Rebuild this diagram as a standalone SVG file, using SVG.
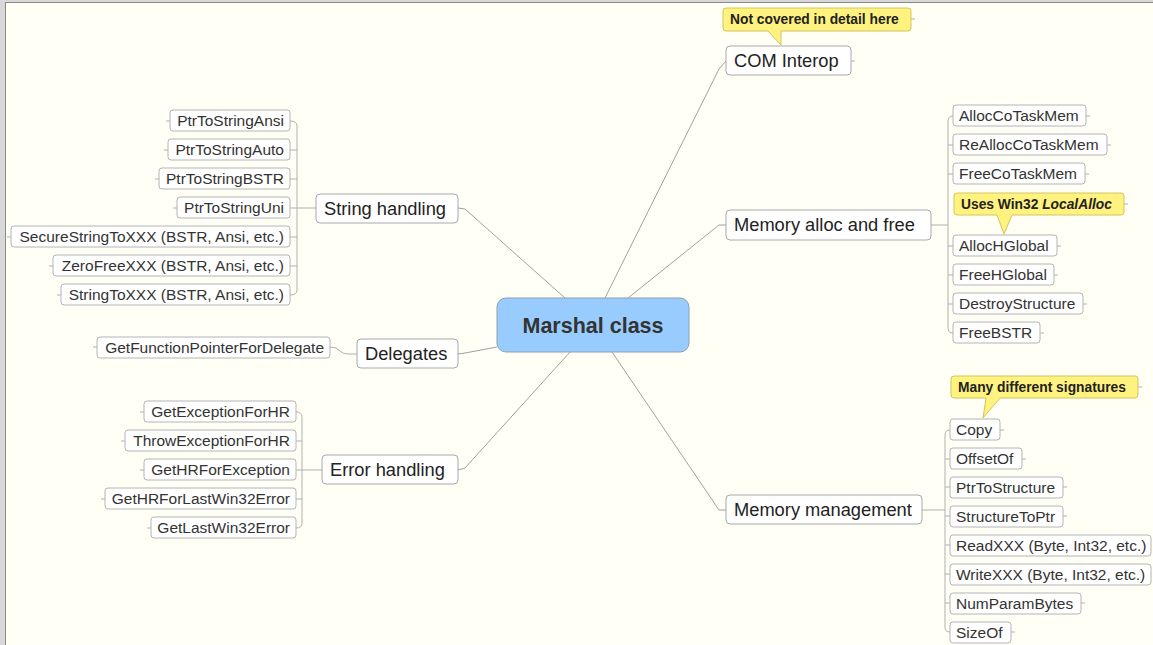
<svg xmlns="http://www.w3.org/2000/svg" width="1153" height="645" viewBox="0 0 1153 645">
<style>
text{font-family:"Liberation Sans",Arial,sans-serif;fill:#222}
.main rect{fill:#fff;stroke:#a8a8a8;stroke-width:1}
.main text{font-size:18.3px}
.leaf rect{fill:#fff;stroke:#b4b4b4;stroke-width:1}
.leaf text{font-size:15.5px;fill:#333}
.r text{text-anchor:end}
.call path{fill:#fff27f;stroke:#d2c463;stroke-width:1}
.call text{font-size:13.8px;font-weight:bold;fill:#222}
#connectors path{fill:none;stroke:#b0b0b0;stroke-width:1}
#connectors .big{stroke:#a0a0a0}
</style>
<rect x="0" y="0" width="1153" height="645" fill="#fffff6"/>
<rect x="0" y="0" width="5" height="645" fill="#d8d8d8"/>
<rect x="0" y="0" width="1153" height="2" fill="#d8d8d8"/>
<rect x="5" y="2" width="1" height="643" fill="#8a8a8a"/>
<rect x="5" y="2" width="1148" height="1" fill="#8a8a8a"/>

<g id="connectors">
<path class="big" d="M605,298 L719,69 L726,61"/>
<path class="big" d="M628,298 L719,225 L726,225"/>
<path class="big" d="M612,352 L719,510 L726,510"/>
<path class="big" d="M565,298 L465,209 L458,208"/>
<path class="big" d="M497,347 L465,353 L458,354"/>
<path class="big" d="M570,352 L465,468 L458,470"/>
<path d="M851,61 H855"/>
<path d="M911,19 H915"/>
<path d="M931,225 H948"/>
<path d="M953,116 Q948,116 948,121 V328 Q948,333 953,333"/>
<path d="M948,145 H953 M948,174 H953 M948,246 H953 M948,275 H953 M948,304 H953"/>
<path d="M1086,116 H1090 M1107,145 H1111 M1085,174 H1089 M1124,204 H1128 M1057,246 H1061 M1054,275 H1058 M1083,304 H1087 M1040,333 H1044"/>
<path d="M922,510 H945"/>
<path d="M950,430 Q945,430 945,435 V627 Q945,632 950,632"/>
<path d="M945,459 H950 M945,487 H950 M945,516 H950 M945,545 H950 M945,574 H950 M945,603 H950"/>
<path d="M1000,430 H1004 M1022,459 H1026 M1063,487 H1067 M1063,516 H1067 M1081,603 H1085 M1011,632 H1015 M1138,387 H1142"/>
<path d="M297,208 H316"/>
<path d="M290,121 Q297,121 297,126 V290 Q297,295 290,295"/>
<path d="M290,150 H297 M290,179 H297 M290,208 H297 M290,237 H297 M290,266 H297"/>
<path d="M166,121 H170 M164,150 H168 M155,179 H159 M173,208 H177 M7,237 H11 M49,266 H53 M57,295 H61"/>
<path d="M330,347 Q337,347 340,351 Q343,354 348,354 H357"/>
<path d="M93,347 H97"/>
<path d="M302,470 H322"/>
<path d="M296,412 Q302,412 302,417 V523 Q302,528 296,528"/>
<path d="M296,441 H302 M296,470 H302 M296,499 H302"/>
<path d="M140,412 H144 M121,441 H125 M140,470 H144 M101,499 H105 M147,528 H151"/>
</g>

<g id="marshal">
<rect x="497" y="298" width="192" height="54" rx="9" fill="#99ccfe" stroke="#8a9fb5" stroke-width="1"/>
<text x="593" y="333" text-anchor="middle" font-size="21.5" font-weight="bold" style="fill:#333">Marshal class</text>
</g>

<g id="com" class="main"><rect x="726" y="46" width="125" height="29" rx="4"/><text x="734" y="67">COM Interop</text></g>
<g id="memalloc" class="main"><rect x="726" y="210" width="205" height="30" rx="4"/><text x="734" y="231">Memory alloc and free</text></g>
<g id="memmgmt" class="main"><rect x="726" y="495" width="196" height="29" rx="4"/><text x="734" y="516">Memory management</text></g>
<g id="strhand" class="main"><rect x="316" y="194" width="142" height="29" rx="4"/><text x="324" y="215">String handling</text></g>
<g id="delegates" class="main"><rect x="357" y="339" width="101" height="29" rx="4"/><text x="365" y="360">Delegates</text></g>
<g id="errhand" class="main"><rect x="322" y="455" width="136" height="29" rx="4"/><text x="330" y="476">Error handling</text></g>

<g id="note-com" class="call"><path d="M726,8 H908 Q911,8 911,11 V28 Q911,31 908,31 H781 L781,45 L768,31 H726 Q723,31 723,28 V11 Q723,8 726,8 Z"/><text x="730" y="24">Not covered in detail here</text></g>
<g id="note-local" class="call"><path d="M957,193 H1121 Q1124,193 1124,196 V212 Q1124,215 1121,215 H1012 L1004,234 L997,215 H957 Q954,215 954,212 V196 Q954,193 957,193 Z"/><text x="961" y="209">Uses Win32 <tspan font-style="italic">LocalAlloc</tspan></text></g>
<g id="note-sig" class="call"><path d="M954,376 H1135 Q1138,376 1138,379 V395 Q1138,398 1135,398 H1000 L983,418 L986,398 H954 Q951,398 951,395 V379 Q951,376 954,376 Z"/><text x="958" y="392">Many different signatures</text></g>

<g id="s1" class="leaf r"><rect x="170" y="110" width="120" height="21" rx="3"/><text x="284" y="126">PtrToStringAnsi</text></g>
<g id="s2" class="leaf r"><rect x="168" y="139" width="122" height="21" rx="3"/><text x="284" y="155">PtrToStringAuto</text></g>
<g id="s3" class="leaf r"><rect x="159" y="168" width="131" height="21" rx="3"/><text x="284" y="184">PtrToStringBSTR</text></g>
<g id="s4" class="leaf r"><rect x="177" y="197" width="113" height="21" rx="3"/><text x="284" y="213">PtrToStringUni</text></g>
<g id="s5" class="leaf r"><rect x="11" y="226" width="279" height="21" rx="3"/><text x="284" y="242">SecureStringToXXX (BSTR, Ansi, etc.)</text></g>
<g id="s6" class="leaf r"><rect x="53" y="255" width="237" height="21" rx="3"/><text x="284" y="271">ZeroFreeXXX (BSTR, Ansi, etc.)</text></g>
<g id="s7" class="leaf r"><rect x="61" y="284" width="229" height="21" rx="3"/><text x="284" y="300">StringToXXX (BSTR, Ansi, etc.)</text></g>

<g id="d1" class="leaf r"><rect x="97" y="337" width="233" height="21" rx="3"/><text x="324" y="353">GetFunctionPointerForDelegate</text></g>

<g id="e1" class="leaf r"><rect x="144" y="401" width="152" height="21" rx="3"/><text x="290" y="417">GetExceptionForHR</text></g>
<g id="e2" class="leaf r"><rect x="125" y="430" width="171" height="21" rx="3"/><text x="290" y="446">ThrowExceptionForHR</text></g>
<g id="e3" class="leaf r"><rect x="144" y="459" width="152" height="21" rx="3"/><text x="290" y="475">GetHRForException</text></g>
<g id="e4" class="leaf r"><rect x="105" y="488" width="191" height="21" rx="3"/><text x="290" y="504">GetHRForLastWin32Error</text></g>
<g id="e5" class="leaf r"><rect x="151" y="517" width="145" height="21" rx="3"/><text x="290" y="533">GetLastWin32Error</text></g>

<g id="a1" class="leaf"><rect x="953" y="105" width="133" height="21" rx="3"/><text x="959" y="121">AllocCoTaskMem</text></g>
<g id="a2" class="leaf"><rect x="953" y="134" width="154" height="21" rx="3"/><text x="959" y="150">ReAllocCoTaskMem</text></g>
<g id="a3" class="leaf"><rect x="953" y="163" width="132" height="21" rx="3"/><text x="959" y="179">FreeCoTaskMem</text></g>
<g id="a4" class="leaf"><rect x="953" y="235" width="104" height="21" rx="3"/><text x="959" y="251">AllocHGlobal</text></g>
<g id="a5" class="leaf"><rect x="953" y="264" width="101" height="21" rx="3"/><text x="959" y="280">FreeHGlobal</text></g>
<g id="a6" class="leaf"><rect x="953" y="293" width="130" height="21" rx="3"/><text x="959" y="309">DestroyStructure</text></g>
<g id="a7" class="leaf"><rect x="953" y="322" width="87" height="21" rx="3"/><text x="959" y="338">FreeBSTR</text></g>

<g id="m1" class="leaf"><rect x="950" y="419" width="50" height="21" rx="3"/><text x="956" y="435">Copy</text></g>
<g id="m2" class="leaf"><rect x="950" y="448" width="72" height="21" rx="3"/><text x="956" y="464">OffsetOf</text></g>
<g id="m3" class="leaf"><rect x="950" y="477" width="113" height="21" rx="3"/><text x="956" y="493">PtrToStructure</text></g>
<g id="m4" class="leaf"><rect x="950" y="506" width="113" height="21" rx="3"/><text x="956" y="522">StructureToPtr</text></g>
<g id="m5" class="leaf"><rect x="950" y="535" width="201" height="21" rx="3"/><text x="956" y="551">ReadXXX (Byte, Int32, etc.)</text></g>
<g id="m6" class="leaf"><rect x="950" y="564" width="201" height="21" rx="3"/><text x="956" y="580">WriteXXX (Byte, Int32, etc.)</text></g>
<g id="m7" class="leaf"><rect x="950" y="593" width="131" height="21" rx="3"/><text x="956" y="609">NumParamBytes</text></g>
<g id="m8" class="leaf"><rect x="950" y="622" width="61" height="21" rx="3"/><text x="956" y="638">SizeOf</text></g>
</svg>
